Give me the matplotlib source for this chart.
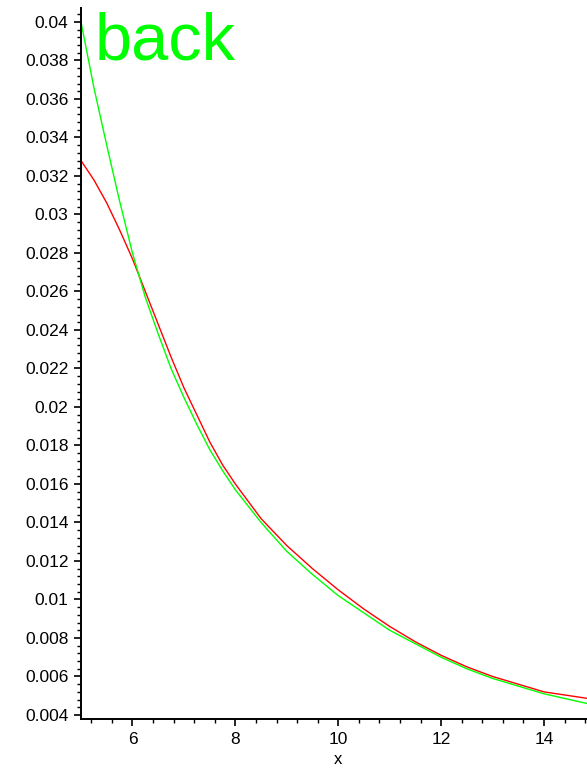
import matplotlib
matplotlib.use("Agg")
import matplotlib.pyplot as plt
from matplotlib.ticker import MultipleLocator, FuncFormatter

plt.rcParams['font.family'] = ['Liberation Sans', 'DejaVu Sans']

# Data
x_red = [5.0, 5.25, 5.5, 5.75, 6.0, 6.25, 6.5, 6.75, 7.0, 7.25, 7.5, 7.75, 8.0,
         8.5, 9.0, 9.5, 10.0, 10.5, 11.0, 11.5, 12.0, 12.5, 13.0, 13.5, 14.0, 14.5, 15.0]
y_red = [0.0328, 0.0318, 0.0306, 0.0292, 0.0277, 0.0260, 0.0243, 0.0226, 0.0210,
         0.0196, 0.0182, 0.0170, 0.0160, 0.0142, 0.0128, 0.0116, 0.0105, 0.0095,
         0.0086, 0.0078, 0.0071, 0.0065, 0.0060, 0.0056, 0.0052, 0.0050, 0.0048]

x_green = [5.0, 5.25, 5.5, 5.75, 6.0, 6.25, 6.5, 6.75, 7.0, 7.25, 7.5, 7.75, 8.0,
           8.5, 9.0, 9.5, 10.0, 10.5, 11.0, 11.5, 12.0, 12.5, 13.0, 13.5, 14.0, 14.5, 15.0]
y_green = [0.0400, 0.0366, 0.0336, 0.0307, 0.0280, 0.0257, 0.0238, 0.0220, 0.0205,
           0.0191, 0.0178, 0.0167, 0.0157, 0.0140, 0.0125, 0.0113, 0.0102, 0.0093,
           0.0084, 0.0077, 0.0070, 0.0064, 0.0059, 0.0055, 0.0051, 0.0048, 0.0045]

title_text = "back"
x_label = "x"

W, H = 587, 769
fig = plt.figure(figsize=(W / 100, H / 100), dpi=100)
left_px, right_px = 81, 595.5
top_px, bottom_px = 8, 719
ax = fig.add_axes([left_px / W, (H - bottom_px) / H,
                   (right_px - left_px) / W, (bottom_px - top_px) / H])

ax.plot(x_red, y_red, color='#ff0000', lw=1.0)
ax.plot(x_green, y_green, color='#00ff00', lw=1.0)

ax.set_xlim(5, 15)
ax.set_ylim(0.003792, 0.040727)

for s in ['top', 'right']:
    ax.spines[s].set_visible(False)
for s in ['left', 'bottom']:
    ax.spines[s].set_linewidth(1.4)
    ax.spines[s].set_color('black')

ax.xaxis.set_major_locator(MultipleLocator(2))
ax.xaxis.set_minor_locator(MultipleLocator(0.4))
ax.yaxis.set_major_locator(MultipleLocator(0.002))
ax.yaxis.set_minor_locator(MultipleLocator(0.0004))
fmt = FuncFormatter(lambda v, p: '{:g}'.format(round(v, 6)))
ax.xaxis.set_major_formatter(fmt)
ax.yaxis.set_major_formatter(fmt)

ax.tick_params(axis='both', which='major', length=5, width=1.2, labelsize=12.5,
               direction='out', pad=4)
ax.tick_params(axis='both', which='minor', length=3, width=1.0, direction='out')

ax.set_xlabel(x_label, fontsize=12, labelpad=4)

fig.text(95 / W, 1 - 60 / H, title_text, color='#00ff00', fontsize=48,
         ha='left', va='baseline')

fig.savefig('out.png', dpi=100)
